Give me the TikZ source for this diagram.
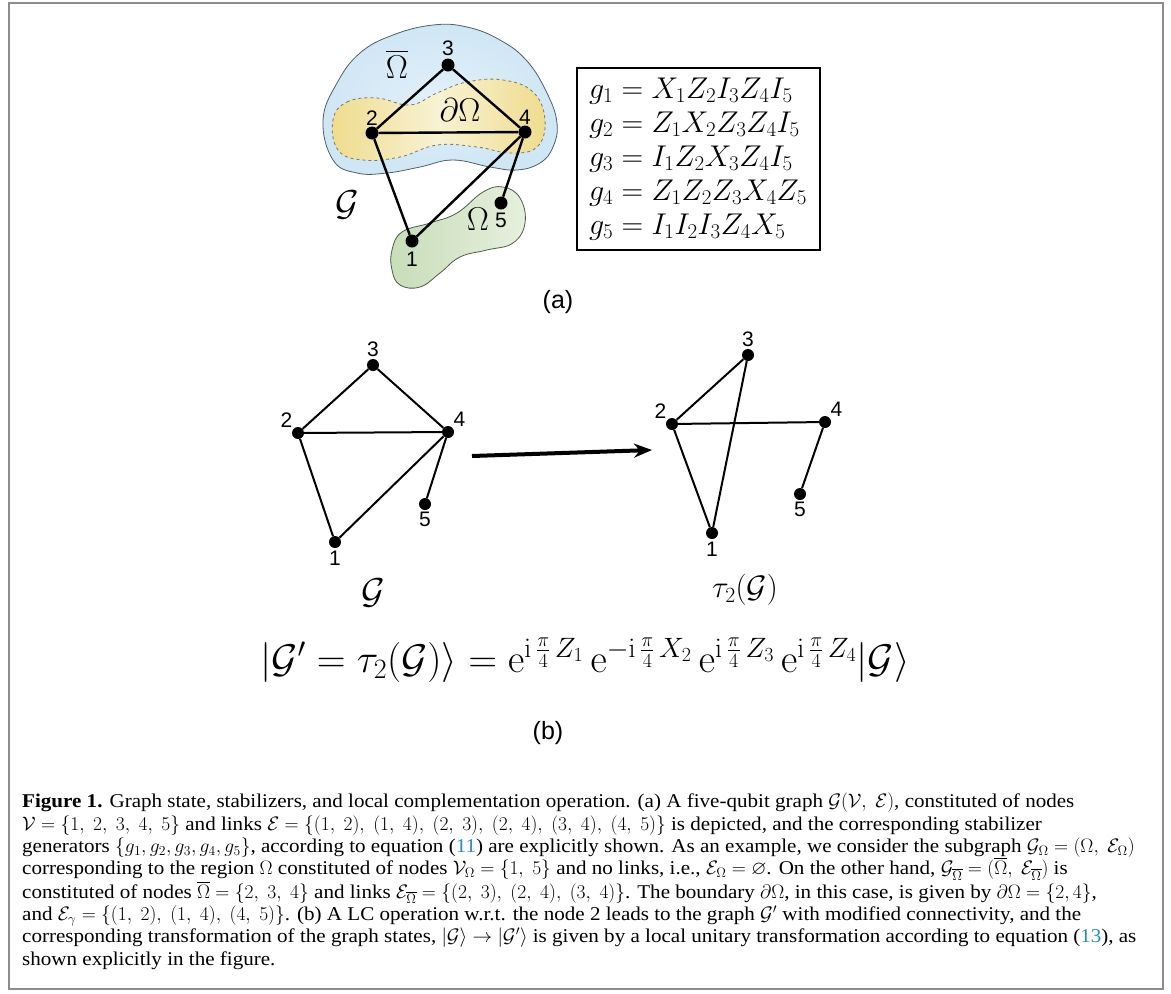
\documentclass[tikz,border=0pt]{standalone}
\usepackage{fix-cm}
\usepackage{amssymb}
\usepackage[no-math]{fontspec}
\setmainfont{Liberation Serif}[FakeStretch=1.08]
\setsansfont{Liberation Sans}
\usetikzlibrary{arrows.meta, positioning}
\definecolor{cframe}{HTML}{8C8C8C}
\definecolor{cblue}{HTML}{CFE6F4}
\definecolor{cbluel}{HTML}{E2F0F9}
\definecolor{cblueline}{HTML}{4F5E6B}
\definecolor{cyellowd}{HTML}{EFDC8E}
\definecolor{cyellowl}{HTML}{F8F2D4}
\definecolor{cyellowline}{HTML}{77776A}
\definecolor{cgreend}{HTML}{C8DDB8}
\definecolor{cgreenl}{HTML}{E6F0DE}
\definecolor{cgreenline}{HTML}{4E5B48}
\definecolor{cref}{HTML}{2A8BC2}
\tikzset{
  vertex/.style={circle, fill=black, inner sep=0pt, minimum size=#1},
  vertex/.default=13pt,
  num/.style={font=\sffamily\fontsize{21}{21}\selectfont, inner sep=1pt},
  link/.style={draw=black, line width=#1},
  link/.default=2.4pt,
  region/.style={font=\fontsize{33}{33}\selectfont, inner sep=0pt},
  sublabel/.style={font=\sffamily\fontsize{25}{25}\selectfont},
  blob/.style={draw=#1, line width=0.8pt},
}

\begin{document}
\begin{tikzpicture}[x=1pt, y=-1pt]
  \useasboundingbox (0,0) rectangle (1171,994);
  \draw[cframe, line width=2pt] (9,3) rectangle (1163,989);

  % (a) regions
  \draw[blob=cblueline, inner color=cbluel, outer color=cblue] plot[smooth cycle, tension=0.7] coordinates {
    (323,120) (337,83) (360,53) (393,35) (433,25) (467,27) (500,40) (527,61) (547,93)
    (557,123) (553,147) (540,163) (517,170) (490,167) (453,160) (420,167) (387,173) (357,173) (333,160)};
  \draw[blob=cyellowline, dashed, left color=cyellowd, right color=cyellowd, middle color=cyellowl] plot[smooth cycle, tension=0.7] coordinates {
    (333,120) (347,102) (377,98) (410,105) (437,93) (467,82) (503,80) (533,92) (545,120)
    (537,147) (510,153) (477,147) (437,145) (400,157) (363,160) (338,150)};
  \draw[blob=cgreenline, left color=cgreend, right color=cgreenl] plot[smooth cycle, tension=0.7] coordinates {
    (392,250) (402,232) (430,223) (457,213) (483,192) (503,187) (520,198) (525,223) (513,243)
    (487,250) (460,257) (440,273) (420,287) (400,285) (392,270)};

  % (a) graph
  \node[vertex, label={[num, label distance=1pt]above:3}] (a3) at (448,65) {};
  \node[vertex, label={[num, label distance=0pt]above:2}] (a2) at (372,133) {};
  \node[vertex, label={[num, label distance=0pt]above:4}] (a4) at (525,132) {};
  \node[vertex, label={[num, label distance=2pt]below:5}] (a5) at (501,203) {};
  \node[vertex, label={[num, label distance=3pt]below:1}] (a1) at (412,241) {};
  \draw[link] (a2) -- (a3) -- (a4) -- (a2) -- (a1) -- (a4) -- (a5);

  \node[region] (obar) at (397,64) {$\overline{\Omega}$};
  \node[region] (dom) at (460,110) {$\partial\Omega$};
  \node[region] (om) at (478,219) {$\Omega$};
  \node[region, font=\fontsize{36}{36}\selectfont] (ga) at (347,205) {$\mathcal{G}$};

  \node[draw, line width=2pt, minimum width=243pt, minimum height=182pt, align=left,
        font=\fontsize{30}{34}\selectfont] (stabbox) at (698,159)
    {$g_1=X_1Z_2I_3Z_4I_5$\\ $g_2=Z_1X_2Z_3Z_4I_5$\\ $g_3=I_1Z_2X_3Z_4I_5$\\
     $g_4=Z_1Z_2Z_3X_4Z_5$\\ $g_5=I_1I_2I_3Z_4X_5$};
  \node[sublabel] (lbla) at (558,302) {(a)};

  % (b) graph before
  \node[vertex=12pt, label={[num, label distance=1pt]above:3}] (b3) at (373,365) {};
  \node[vertex=12pt, label={[num, label distance=0pt]above left:2}] (b2) at (298,433) {};
  \node[vertex=12pt, label={[num, label distance=0pt]above right:4}] (b4) at (448,432) {};
  \node[vertex=12pt, label={[num, label distance=1pt]below:5}] (b5) at (425,504) {};
  \node[vertex=12pt, label={[num, label distance=2pt]below:1}] (b1) at (335,542) {};
  \draw[link=2pt] (b2) -- (b3) -- (b4) -- (b2) -- (b1) -- (b4) -- (b5);
  \node[region, font=\fontsize{36}{36}\selectfont] (gb) at (373,593) {$\mathcal{G}$};

  % (b) graph after
  \node[vertex=12pt, label={[num, label distance=1pt]above:3}] (c3) at (748,355) {};
  \node[vertex=12pt, label={[num, label distance=0pt]above left:2}] (c2) at (672,424) {};
  \node[vertex=12pt, label={[num, label distance=0pt]above right:4}] (c4) at (825,422) {};
  \node[vertex=12pt, label={[num, label distance=1pt]below:5}] (c5) at (800,494) {};
  \node[vertex=12pt, label={[num, label distance=2pt]below:1}] (c1) at (712,533) {};
  \draw[link=2pt] (c1) -- (c2) -- (c3) -- (c1);
  \draw[link=2pt] (c2) -- (c4) -- (c5);
  \node[region, font=\fontsize{31}{31}\selectfont] (gc) at (745,590) {$\tau_2(\mathcal{G})$};

  \coordinate (arrs) at (472,456);
  \coordinate (arre) at (652,450);
  \draw[line width=4pt, -{Stealth[length=18pt, width=14pt]}] (arrs) -- (arre);

  \node[region, font=\fontsize{40}{40}\selectfont] (lcform) at (585,660)
    {$|\mathcal{G}'=\tau_2(\mathcal{G})\rangle=\mathrm{e}^{\mathrm{i}\,\frac{\pi}{4}\,Z_1}\,\mathrm{e}^{-\mathrm{i}\,\frac{\pi}{4}\,X_2}\,\mathrm{e}^{\mathrm{i}\,\frac{\pi}{4}\,Z_3}\,\mathrm{e}^{\mathrm{i}\,\frac{\pi}{4}\,Z_4}|\mathcal{G}\rangle$};
  \node[sublabel] (lblb) at (548,733) {(b)};

  % caption
  \node[anchor=north west, inner sep=0pt, align=left, font=\fontsize{19.5}{22.3}\selectfont] (caption) at (22,793)
    {\textbf{Figure 1.} Graph state, stabilizers, and local complementation operation. (a) A five-qubit graph $\mathcal{G}(\mathcal{V},\ \mathcal{E})$, constituted of nodes\\
     $\mathcal{V}=\{1,\ 2,\ 3,\ 4,\ 5\}$ and links $\mathcal{E}=\{(1,\ 2),\ (1,\ 4),\ (2,\ 3),\ (2,\ 4),\ (3,\ 4),\ (4,\ 5)\}$ is depicted, and the corresponding stabilizer\\
     generators $\{g_1, g_2, g_3, g_4, g_5\}$, according to equation (\textcolor{cref}{11}) are explicitly shown. As an example, we consider the subgraph $\mathcal{G}_\Omega=(\Omega,\ \mathcal{E}_\Omega)$\\
     corresponding to the region $\Omega$ constituted of nodes $\mathcal{V}_\Omega=\{1,\ 5\}$ and no links, i.e., $\mathcal{E}_\Omega=\varnothing$. On the other hand, $\mathcal{G}_{\overline{\Omega}}=(\overline{\Omega},\ \mathcal{E}_{\overline{\Omega}})$ is\\
     constituted of nodes $\overline{\Omega}=\{2,\ 3,\ 4\}$ and links $\mathcal{E}_{\overline{\Omega}}=\{(2,\ 3),\ (2,\ 4),\ (3,\ 4)\}$. The boundary $\partial\Omega$, in this case, is given by $\partial\Omega=\{2, 4\}$,\\
     and $\mathcal{E}_\gamma=\{(1,\ 2),\ (1,\ 4),\ (4,\ 5)\}$. (b) A LC operation w.r.t. the node 2 leads to the graph $\mathcal{G}'$ with modified connectivity, and the\\
     corresponding transformation of the graph states, $|\mathcal{G}\rangle\rightarrow|\mathcal{G}'\rangle$ is given by a local unitary transformation according to equation (\textcolor{cref}{13}), as\\
     shown explicitly in the figure.};
\end{tikzpicture}
\end{document}
